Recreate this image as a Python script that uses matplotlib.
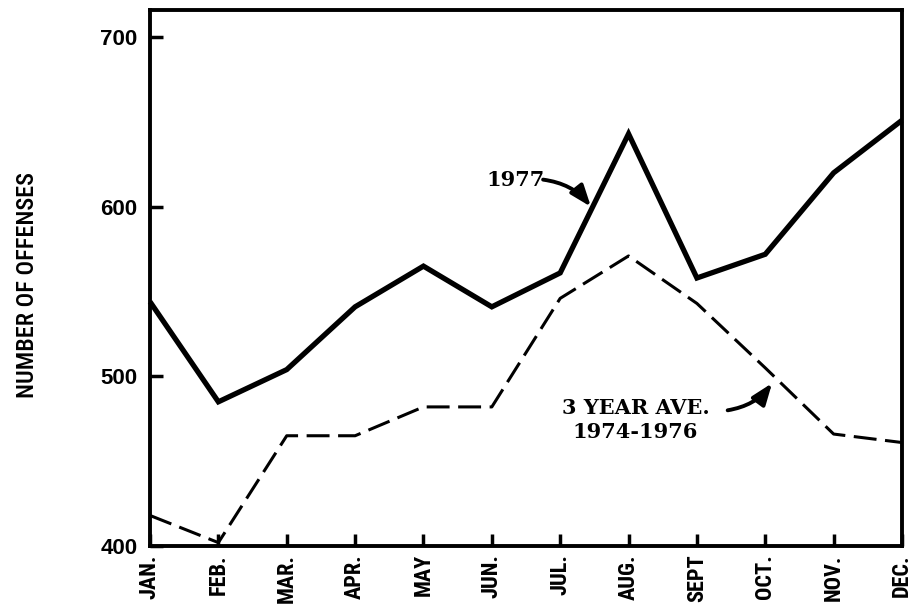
import matplotlib
matplotlib.use("Agg")
import matplotlib.pyplot as plt
from matplotlib import font_manager as fm

months = ['JAN.', 'FEB.', 'MAR.', 'APR.', 'MAY', 'JUN.', 'JUL.', 'AUG.',
          'SEPT', 'OCT.', 'NOV.', 'DEC.']
offenses_1977 = [544, 485, 504, 541, 565, 541, 561, 643, 558, 572, 620, 651]
avg_1974_1976 = [418, 402, 465, 465, 482, 482, 546, 571, 543, 505, 466, 461]
yticks = [400, 500, 600, 700]

names = {f.name for f in fm.fontManager.ttflist}
cond = 'DejaVu Sans'
for cand in ['DejaVu Sans Condensed', 'Liberation Sans Narrow', 'Roboto Condensed',
             'Open Sans Condensed']:
    if cand in names:
        cond = cand
        break

fig = plt.figure(figsize=(9.14, 6.10), dpi=100)
ax = fig.add_axes([150/914, 1-546/610, (902-150)/914, (546-10)/610])

x = list(range(len(months)))
ax.plot(x, offenses_1977, color='black', lw=3.8, solid_joinstyle='miter',
        solid_capstyle='butt', clip_on=False)
ax.plot(x, avg_1974_1976, color='black', lw=2.2, ls=(0, (7.5, 2.8)),
        dash_capstyle='butt')

ax.set_xlim(0, 11)
ax.set_ylim(400, 716)
ax.set_xticks(x)
ax.set_xticklabels(months, rotation=90, fontfamily=cond, fontstretch='condensed',
                   fontweight='bold', fontsize=16)
ax.set_yticks(yticks)
ax.set_yticklabels([str(v) for v in yticks], fontfamily='Liberation Sans',
                   fontweight='bold', fontsize=16)
ax.tick_params(axis='both', direction='in', length=9, width=2.5, color='black')
ax.tick_params(axis='y', pad=9)
ax.tick_params(axis='x', pad=6)
for s in ax.spines.values():
    s.set_linewidth(2.8)

fig.text(28/914, 1-285/610, 'NUMBER OF OFFENSES', rotation=90, ha='center',
         va='center', fontfamily=cond, fontstretch='condensed', fontsize=17.5,
         fontweight='medium')

serif = dict(fontfamily='DejaVu Serif', fontweight='bold', fontsize=15)
ax.text(5.35, 616, '1977', ha='center', va='center', **serif)
ax.annotate('', xy=(6.45, 600), xytext=(5.75, 616),
            arrowprops=dict(arrowstyle='-|>,head_length=0.8,head_width=0.3',
                            lw=2.8, color='black', mutation_scale=16,
                            shrinkA=0, shrinkB=0,
                            connectionstyle='arc3,rad=-0.2'))
ax.text(7.10, 474, '3 YEAR AVE.\n1974-1976', ha='center', va='center',
        linespacing=1.25, **serif)
ax.annotate('', xy=(9.1, 496), xytext=(8.45, 480),
            arrowprops=dict(arrowstyle='-|>,head_length=0.8,head_width=0.3',
                            lw=2.8, color='black', mutation_scale=16,
                            shrinkA=0, shrinkB=0,
                            connectionstyle='arc3,rad=0.2'))

fig.savefig('out.png', dpi=100)
